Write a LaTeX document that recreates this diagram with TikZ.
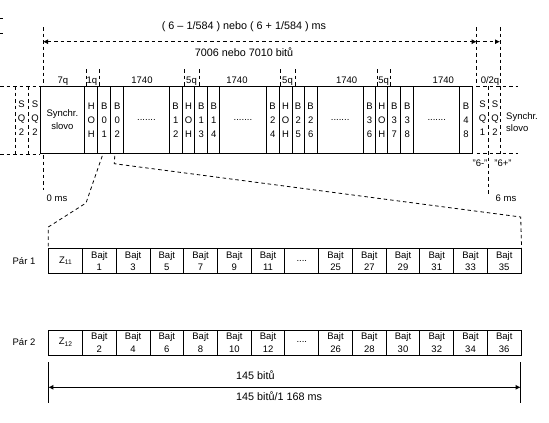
\documentclass[tikz,border=0pt]{standalone}
\usepackage{fontspec}
\setmainfont{Liberation Sans}
\usetikzlibrary{arrows.meta}
\tikzset{mytip/.tip={Latex[length=5pt,width=5pt]}}
\newcommand\mysevendots{.......}
\newcommand\myfourdots{....}
\begin{document}
\begin{tikzpicture}[x=1pt,y=-1pt,
  every node/.style={font=\fontsize{9.5}{12}\selectfont, inner sep=0pt},
  big/.style={font=\fontsize{10.8}{12}\selectfont},
  dsh/.style={line width=0.8pt, dash pattern=on 3.5pt off 3pt},
  sol/.style={line width=0.9pt},
  col/.style={draw, line width=0.9pt, anchor=north west, minimum height=67pt, align=center, font=\fontsize{9.5}{14}\selectfont},
  sq/.style={align=center, font=\fontsize{9.5}{14}\selectfont},
  cell/.style={draw, line width=0.9pt, anchor=north west, minimum width=33.74pt, minimum height=25pt, align=center, font=\fontsize{9.5}{12.5}\selectfont}]
\useasboundingbox (0,0) rectangle (549,423);

% top texts
\node[anchor=base, big] (t1) at (244,29) {( 6 – 1/584 ) nebo ( 6 + 1/584 ) ms};
\node[anchor=base, big] (t2) at (244,56.5) {7006 nebo 7010 bitů};

% tiny marks at left edge
\coordinate (m1) at (0,18); \coordinate (m2) at (3,18);
\coordinate (m3) at (0,33); \coordinate (m4) at (3,33);
\draw[line width=0.6pt] (m1) -- (m2) (m3) -- (m4);

% top vertical guides and arrows
\coordinate (g1a) at (43,27);    \coordinate (g1b) at (43,86);
\coordinate (g2a) at (476.7,27); \coordinate (g2b) at (476.7,86);
\coordinate (g3a) at (500,27);   \coordinate (g3b) at (500,86);
\draw[dsh] (g1a) -- (g1b) (g2a) -- (g2b) (g3a) -- (g3b);
\coordinate (ar1) at (43,41.7); \coordinate (ar2) at (476.7,41.7); \coordinate (ar3) at (500,41.7);
\draw[dsh, {mytip}-{mytip}] (ar1) -- (ar2);
\draw[dsh, -{mytip}] (ar2) -- (ar3);

% segment ticks
\foreach \x in {86,99,184.3,199,280,295,377.3,390} {
  \coordinate (tka) at (\x,69); \coordinate (tkb) at (\x,86);
  \draw[dsh] (tka) -- (tkb);
}
% segment labels
\foreach \x/\t [count=\i] in {63/7q, 92/1q, 142/1740, 191.5/5q, 237/1740, 287.5/5q, 346.7/1740, 383.7/5q, 443.3/1740, 490/0\slash 2q}
  \node[anchor=base] (lab\i) at (\x,83.5) {\t};

% main frame columns
\foreach \a/\b/\t [count=\i] in {
  39.5/84.3/{Synchr.\\[-1pt]slovo},
  84.3/97.3/{H\\O\\H}, 97.3/110.3/{B\\0\\1}, 110.3/123.3/{B\\0\\2},
  123.3/168.7/{\mysevendots}, 168.7/181.7/{B\\1\\2},
  181.7/194.3/{H\\O\\H}, 194.3/207.3/{B\\1\\3}, 207.3/219.3/{B\\1\\4},
  219.3/265.7/{\mysevendots}, 265.7/278.7/{B\\2\\4},
  278.7/291.7/{H\\O\\H}, 291.7/303.7/{B\\2\\5}, 303.7/316.7/{B\\2\\6},
  316.7/362.7/{\mysevendots}, 362.7/375.3/{B\\3\\6},
  375.3/387.3/{H\\O\\H}, 387.3/400.3/{B\\3\\7}, 400.3/413.3/{B\\3\\8},
  413.3/459.3/{\mysevendots}, 459.3/471.7/{B\\4\\8}} {
  \pgfmathsetmacro\w{\b-\a}
  \node[col, minimum width=\w pt] (f\i) at (\a,86) {\t};
}

% left SQ dashed boxes
\coordinate (lq1) at (0,86);  \coordinate (lq2) at (39.5,86);
\coordinate (lq3) at (0,154); \coordinate (lq4) at (39.5,154);
\coordinate (lv1a) at (15,86); \coordinate (lv1b) at (15,154);
\coordinate (lv2a) at (28,86); \coordinate (lv2b) at (28,154);
\draw[dsh] (lq1) -- (lq2) (lq3) -- (lq4) (lv1a) -- (lv1b) (lv2a) -- (lv2b);
\node[sq] (sqa) at (21.5,118) {S\\Q\\2};
\node[sq] (sqb) at (35,118) {S\\Q\\2};

% right SQ dashed boxes
\coordinate (rq1) at (476.7,86);  \coordinate (rq2) at (518,86);
\coordinate (rq3) at (476.7,153.5); \coordinate (rq4) at (518,153.5);
\coordinate (rv1a) at (488.3,86); \coordinate (rv1b) at (488.3,195);
\coordinate (rv2a) at (500.7,86); \coordinate (rv2b) at (500.7,153.5);
\draw[dsh] (rq1) -- (rq2) (rq3) -- (rq4) (rv1a) -- (rv1b) (rv2a) -- (rv2b);
\node[sq] (sqc) at (482.5,118) {S\\Q\\1};
\node[sq] (sqd) at (495,118) {S\\Q\\2};
\node[anchor=west, align=left, font=\fontsize{9.5}{12.5}\selectfont] (syr) at (506,122) {Synchr.\\slovo};
\node (q6m) at (480,163.5) {"6-"};
\node (q6p) at (503,163.5) {"6+"};
\node (ms6) at (506,198) {6 ms};

% 0 ms guide
\coordinate (z1) at (43,155); \coordinate (z2) at (43,190);
\draw[dsh] (z1) -- (z2);
\node (ms0) at (57,198) {0 ms};

% Par rows
\foreach \t [count=\i] in {Z\textsubscript{11}, {Bajt\\1}, {Bajt\\3}, {Bajt\\5}, {Bajt\\7}, {Bajt\\9}, {Bajt\\11}, {\myfourdots}, {Bajt\\25}, {Bajt\\27}, {Bajt\\29}, {Bajt\\31}, {Bajt\\33}, {Bajt\\35}}
  \node[cell] (a\i) at ({48.3+(\i-1)*33.74},248) {\t};
\foreach \t [count=\i] in {Z\textsubscript{12}, {Bajt\\2}, {Bajt\\4}, {Bajt\\6}, {Bajt\\8}, {Bajt\\10}, {Bajt\\12}, {\myfourdots}, {Bajt\\26}, {Bajt\\28}, {Bajt\\30}, {Bajt\\32}, {Bajt\\34}, {Bajt\\36}}
  \node[cell] (b\i) at ({48.3+(\i-1)*33.74},329.5) {\t};
\node (p1) at (24,261) {Pár 1};
\node (p2) at (24,342) {Pár 2};

% zoom connectors
\coordinate (k1) at (86,203); \coordinate (k2) at (48.3,227);
\coordinate (k3) at (114.3,163.7); \coordinate (k4) at (520.7,217);
\draw[dsh] ([xshift=-2pt,yshift=-2pt]f3.south) -- (k1) -- (k2) -- (a1.north west);
\draw[dsh] ([xshift=-2.5pt,yshift=-2pt]f4.south) -- (k3) -- (k4) -- (a14.north east);

% bottom dimension
\coordinate (d1a) at (48.3,362); \coordinate (d1b) at (48.3,403);
\coordinate (d2a) at (520.7,362); \coordinate (d2b) at (520.7,403);
\draw[sol] (d1a) -- (d1b) (d2a) -- (d2b);
\coordinate (e1) at (48.3,387.3); \coordinate (e2) at (520.7,387.3);
\draw[sol, {mytip}-{mytip}] (e1) -- (e2);
\node[anchor=base west, big] (bt1) at (236,379) {145 bitů};
\node[anchor=base west, big] (bt2) at (236,400) {145 bitů/1 168 ms};
\end{tikzpicture}
\end{document}
